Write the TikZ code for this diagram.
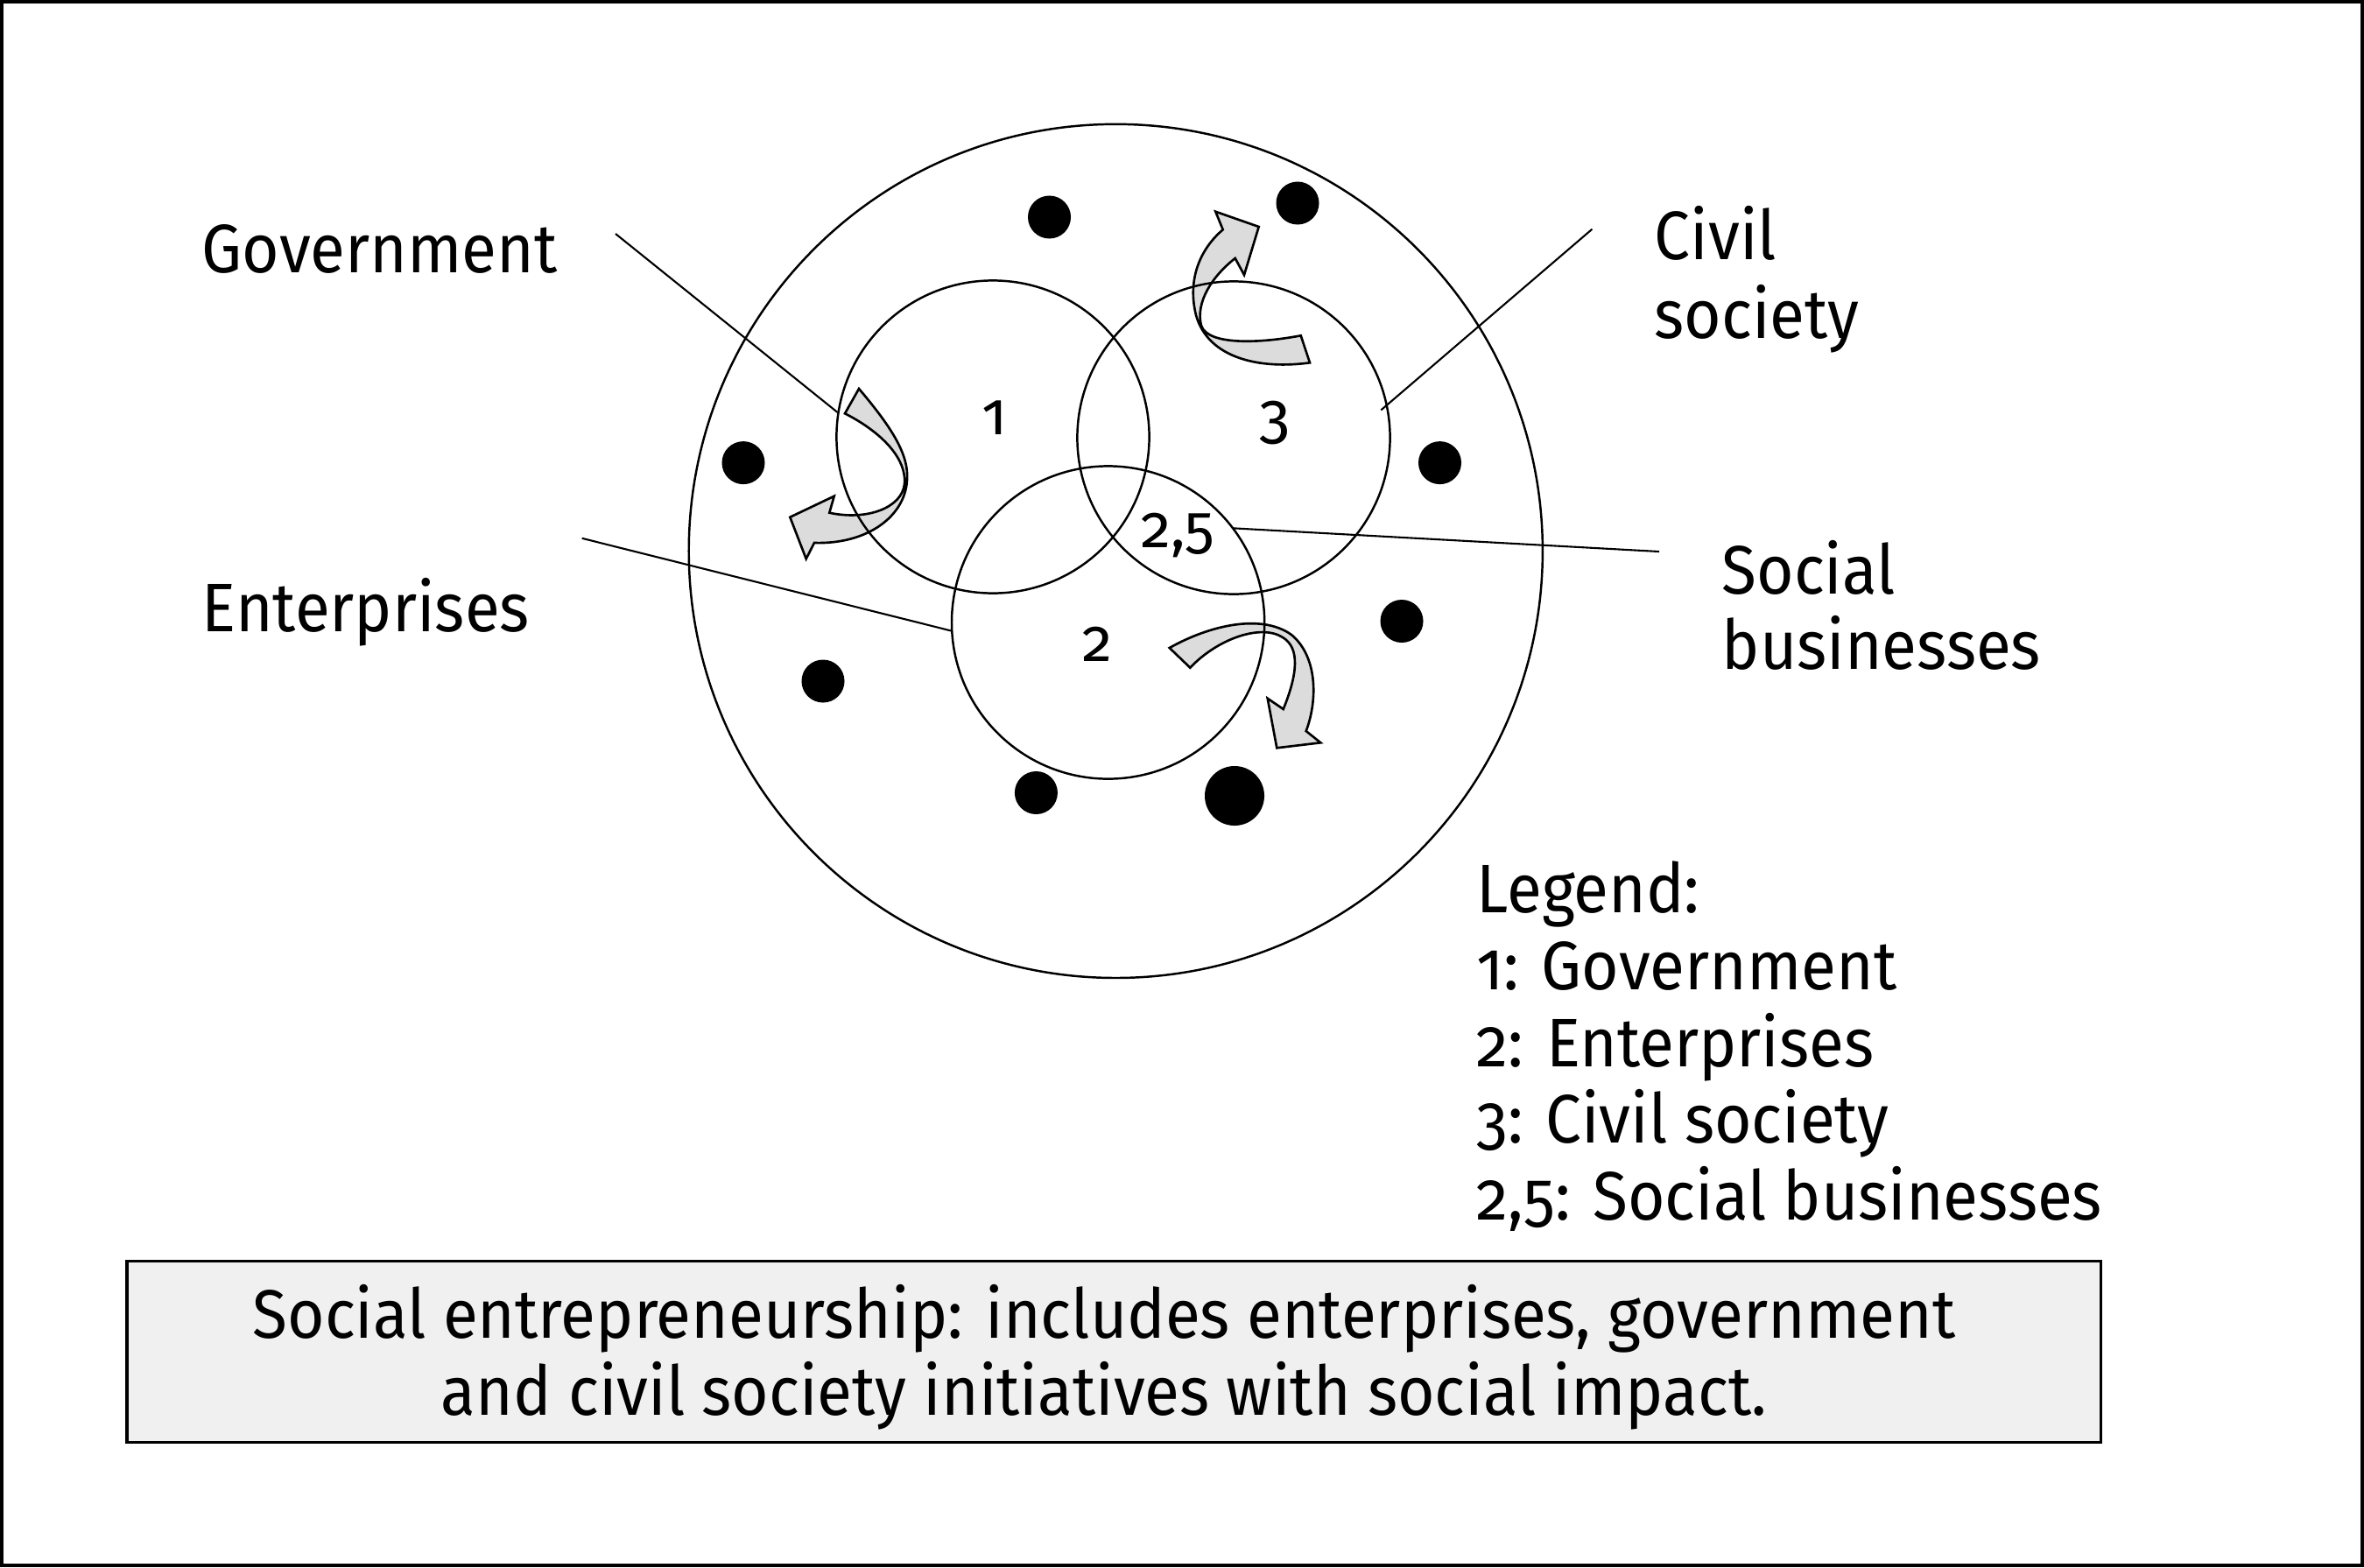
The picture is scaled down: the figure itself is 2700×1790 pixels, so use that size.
\documentclass[tikz,border=0pt]{standalone}
\usepackage{fontspec}
\setmainfont{Fira Sans}[FakeStretch=0.93]
\newfontfamily\onum{Fira Sans}[Numbers=OldStyle,FakeStretch=0.93]
\newfontfamily\onumc{Fira Sans}[Numbers=OldStyle]
\definecolor{arrowgray}{RGB}{220,220,221}
\definecolor{boxgray}{RGB}{240,240,240}
\begin{document}
\begin{tikzpicture}[x=0.01cm,y=-0.01cm,
  lbl/.style={font=\fontsize{22.3}{25}\selectfont, inner sep=0, anchor=base west},
  leg/.style={font=\onum\fontsize{22.3}{25}\selectfont, inner sep=0, anchor=base west},
  boxtxt/.style={font=\fontsize{22.3}{25}\selectfont, inner sep=0, anchor=base},
  num/.style={font=\onumc\fontsize{19.5}{22}\selectfont, inner sep=0, anchor=base},
  ring/.style={circle, draw, line width=0.7pt, inner sep=0, minimum size=3.57cm},
  dot/.style={circle, fill=black, inner sep=0, minimum size=0.49cm},
  conn/.style={line width=0.6pt},
  curvarrow/.style={draw, line width=0.75pt, fill=arrowgray, line join=miter}]

\useasboundingbox (0,0) rectangle (2700,1790);
\draw[line width=1.1pt] (2,2) rectangle (2698,1788);

% curved arrows
\path[curvarrow] (981,444) .. controls (1020,490) and (1038,520) .. (1036,548)
  .. controls (1034,590) and (990,622) .. (930,620)
  -- (920.7,638.3) -- (902.3,590.7) -- (952.7,566.7) -- (947.3,585.7)
  .. controls (990,595) and (1030,580) .. (1033,553)
  .. controls (1036,520) and (1000,490) .. (965,472.3) -- cycle;
\path[curvarrow] (1496,414.3) .. controls (1440,422) and (1380,410) .. (1366,360)
  .. controls (1356,320) and (1370,285) .. (1396.7,262.3)
  -- (1388.3,241.7) -- (1437.7,259) -- (1421,314) -- (1410.7,295)
  .. controls (1385,315) and (1365,345) .. (1372,372)
  .. controls (1380,395) and (1440,392) .. (1485.7,383.3) -- cycle;
\path[curvarrow] (1335.7,740) .. controls (1380,715) and (1440,700) .. (1475,725)
  .. controls (1505,750) and (1505,800) .. (1491.7,835)
  -- (1508.3,848.3) -- (1458.3,854.3) -- (1447.7,797.7) -- (1465.7,810)
  .. controls (1482,770) and (1485,740) .. (1465,728)
  .. controls (1440,712) and (1390,730) .. (1359.3,762.7) -- cycle;

% circles
\node[circle, draw, line width=0.7pt, inner sep=0, minimum size=9.746cm] (outer) at (1274.3,629.4) {};
\node[ring] (c1) at (1134,499) {};
\node[ring] (c3) at (1409,500) {};
\node[ring] (c2) at (1265.6,711) {};

% dots
\node[dot] (d1) at (1198.5,248) {};
\node[dot] (d2) at (1482,232) {};
\node[dot] (d3) at (849,528.6) {};
\node[dot] (d4) at (1644.5,528.6) {};
\node[dot] (d5) at (1601,709.5) {};
\node[dot] (d6) at (940,778) {};
\node[dot] (d7) at (1183.4,905.5) {};
\node[dot, minimum size=0.68cm] (d8) at (1410,909) {};

% numbers in circles
\node[num] (n1) at (1135.7,496.7) {1};
\node[num, font=\onumc\fontsize{20.5}{22}\selectfont] (n3) at (1455.8,499.3) {3};
\node[num] (n25) at (1345.5,625) {2,5};
\node[num] (n2) at (1253,755) {2};

% labels
\node[lbl] (gov) at (230,311.7) {Government};
\node[lbl] (ent) at (230,721.5) {Enterprises};
\node[lbl] (civ1) at (1889,296.8) {Civil};
\node[lbl] (civ2) at (1889,386) {society};
\node[lbl] (soc1) at (1966,678) {Social};
\node[lbl] (soc2) at (1966,764.6) {businesses};

% connectors
\coordinate (gA) at (703,267);
\coordinate (eA) at (664.7,614.8);
\coordinate (cA) at (1818.4,261.7);
\coordinate (cB) at (1577.3,468.4);
\coordinate (sA) at (1895,630);
\coordinate (sB) at (1408,603.3);
\draw[conn] (gA) -- (c1.171.6);
\draw[conn] (eA) -- (c2.183.5);
\draw[conn] (cA) -- (cB);
\draw[conn] (sA) -- (sB);

% legend
\node[leg] (lg0) at (1686,1042.7) {Legend:};
\node[leg] (lg1) at (1686,1130) {1: Government};
\node[leg] (lg2) at (1686,1218) {2: Enterprises};
\node[leg] (lg3) at (1686,1305) {3: Civil society};
\node[leg] (lg4) at (1686,1393) {2,5: Social businesses};

% bottom box
\node[draw, fill=boxgray, line width=0.9pt, inner sep=0, minimum width=22.53cm, minimum height=2.07cm] (box) at (1272.2,1544.2) {};
\node[boxtxt] (bt1) at (1261,1528) {Social entrepreneurship: includes enterprises, government};
\node[boxtxt] (bt2) at (1261,1616.7) {and civil society initiatives with social impact.};
\end{tikzpicture}
\end{document}
